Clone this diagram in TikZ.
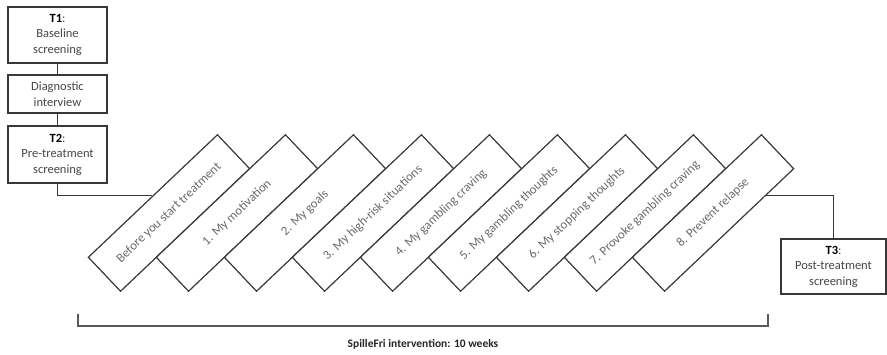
\documentclass[tikz,border=0pt]{standalone}
\usepackage{fontspec}
\setmainfont{Carlito}
\usetikzlibrary{calc}
\begin{document}
\begin{tikzpicture}[x=1pt,y=-1pt,
  line/.style={draw=black!78, line width=1.2pt},
  stage/.style={line, fill=white, align=center, inner sep=0pt, text=black!72,
    font=\fontsize{12.5}{15.5}\selectfont},
  module/.style={line, fill=white, rotate=43.5, minimum width=178pt, minimum height=46.8pt,
    inner sep=0pt, text=black!58, font=\fontsize{12.8}{15}\selectfont},
  bracket/.style={draw=black!65, line width=1.4pt},
]
\path[use as bounding box] (0,0) rectangle (887,354);

% left column
\node[stage, minimum width=99pt, minimum height=56pt] (t1) at (57.5,35)
  {\textbf{\color{black}T1}:\\Baseline\\screening};
\node[stage, minimum width=99pt, minimum height=38pt] (diag) at (57.5,94)
  {Diagnostic\\interview};
\node[stage, minimum width=99pt, minimum height=57pt] (t2) at (57.5,154.5)
  {\textbf{\color{black}T2}:\\Pre-treatment\\screening};
\draw[line] (t1.south) -- (diag.north);
\draw[line] (diag.south) -- (t2.north);

% modules
\foreach \i/\t in {0/Before you start treatment, 1/1. My motivation, 2/2. My goals,
  3/3. My high-risk situations, 4/4. My gambling craving, 5/5. My gambling thoughts,
  6/6. My stopping thoughts, 7/7. Provoke gambling craving, 8/8. Prevent relapse}
  \node[module] (r\i) at (169+68*\i,213) {\t};

% T3
\node[stage, minimum width=105pt, minimum height=55pt] (t3) at (833.5,266.5)
  {\textbf{\color{black}T3}:\\Post-treatment\\screening};

% connectors
\draw[line] (t2.south) |- (r0.north);
\coordinate (exit) at ($(r8.south east)!0.22!(r8.south west)$);
\draw[line] (exit) -| (t3.north);

% bracket
\coordinate (bl) at (78,314);
\coordinate (br) at (768,314);
\draw[bracket] (bl) -- ++(0,12) -| (br);
\node[font=\fontsize{11.5}{14}\selectfont\bfseries, text=black!85] (lab)
  at ($(bl)!0.5!(br)+(0,30)$) {SpilleFri intervention: 10 weeks};
\end{tikzpicture}
\end{document}
